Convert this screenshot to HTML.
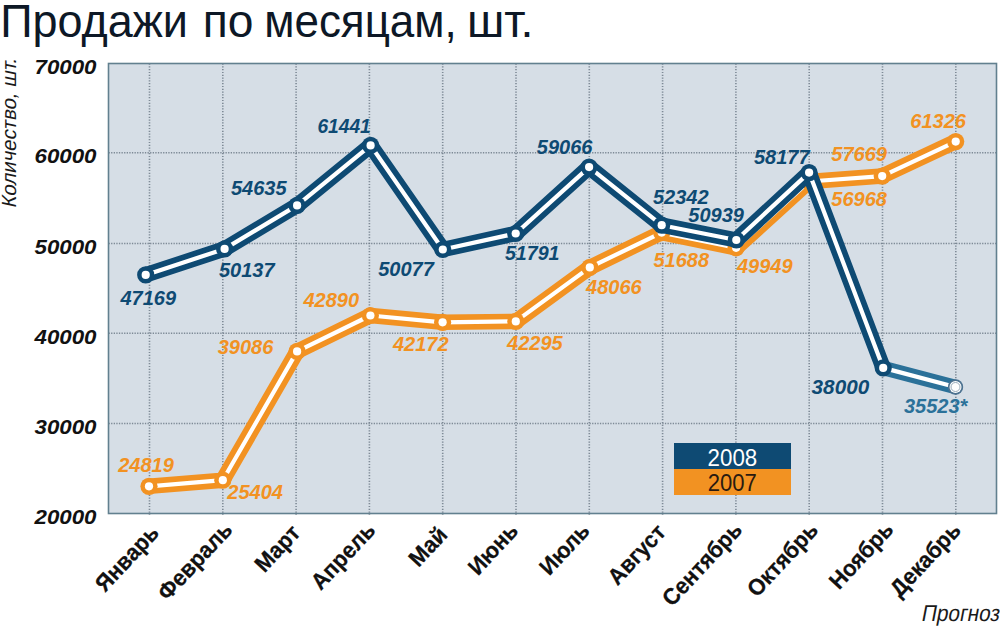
<!DOCTYPE html>
<html lang="ru"><head><meta charset="utf-8"><title>Продажи по месяцам, шт.</title>
<style>
html,body{margin:0;padding:0;background:#fff;}
body{width:1000px;height:626px;overflow:hidden;font-family:"Liberation Sans",sans-serif;}
svg{display:block;}
text{font-family:"Liberation Sans",sans-serif;}
.ttl{font-size:47px;fill:#0d1826;}
.yl{font-size:19.5px;font-weight:bold;font-style:italic;fill:#111;}
.xl{font-weight:bold;fill:#111;stroke:#111;stroke-width:0.25px;}
.dl{font-size:20px;font-weight:bold;font-style:italic;}
.b{fill:#0e4a73}.o{fill:#f29222}.f{fill:#2b7199}
.ob{fill:#1a1a1a;}
</style></head><body>
<svg width="1000" height="626" viewBox="0 0 1000 626">
<rect width="1000" height="626" fill="#fff"/>

<text class="ttl" x="0.17" y="36.6" textLength="187.78" lengthAdjust="spacingAndGlyphs">Продажи</text>
<text class="ttl" x="202.85" y="36.6" textLength="50.72" lengthAdjust="spacingAndGlyphs">по</text>
<text class="ttl" x="264.19" y="36.6" textLength="192.6" lengthAdjust="spacingAndGlyphs">месяцам,</text>
<text class="ttl" x="467.03" y="36.6" textLength="66.42" lengthAdjust="spacingAndGlyphs">шт.</text>
<rect x="108.5" y="63.5" width="888.0" height="450.0" fill="#d6dee6"/>
<line x1="149.5" y1="63.5" x2="149.5" y2="515.0" stroke="#6f7c89" stroke-width="1.6" stroke-dasharray="1.2 1.6" opacity="0.85"/>
<line x1="222.8" y1="63.5" x2="222.8" y2="515.0" stroke="#6f7c89" stroke-width="1.6" stroke-dasharray="1.2 1.6" opacity="0.85"/>
<line x1="296.1" y1="63.5" x2="296.1" y2="515.0" stroke="#6f7c89" stroke-width="1.6" stroke-dasharray="1.2 1.6" opacity="0.85"/>
<line x1="369.4" y1="63.5" x2="369.4" y2="515.0" stroke="#6f7c89" stroke-width="1.6" stroke-dasharray="1.2 1.6" opacity="0.85"/>
<line x1="442.7" y1="63.5" x2="442.7" y2="515.0" stroke="#6f7c89" stroke-width="1.6" stroke-dasharray="1.2 1.6" opacity="0.85"/>
<line x1="516.0" y1="63.5" x2="516.0" y2="515.0" stroke="#6f7c89" stroke-width="1.6" stroke-dasharray="1.2 1.6" opacity="0.85"/>
<line x1="589.3" y1="63.5" x2="589.3" y2="515.0" stroke="#6f7c89" stroke-width="1.6" stroke-dasharray="1.2 1.6" opacity="0.85"/>
<line x1="662.6" y1="63.5" x2="662.6" y2="515.0" stroke="#6f7c89" stroke-width="1.6" stroke-dasharray="1.2 1.6" opacity="0.85"/>
<line x1="735.9" y1="63.5" x2="735.9" y2="515.0" stroke="#6f7c89" stroke-width="1.6" stroke-dasharray="1.2 1.6" opacity="0.85"/>
<line x1="809.2" y1="63.5" x2="809.2" y2="515.0" stroke="#6f7c89" stroke-width="1.6" stroke-dasharray="1.2 1.6" opacity="0.85"/>
<line x1="882.5" y1="63.5" x2="882.5" y2="515.0" stroke="#6f7c89" stroke-width="1.6" stroke-dasharray="1.2 1.6" opacity="0.85"/>
<line x1="955.8" y1="63.5" x2="955.8" y2="515.0" stroke="#6f7c89" stroke-width="1.6" stroke-dasharray="1.2 1.6" opacity="0.85"/>
<line x1="108.5" y1="152.7" x2="996.5" y2="152.7" stroke="#6f7c89" stroke-width="1.5" stroke-dasharray="1.3 1.3" opacity="0.85"/>
<line x1="108.5" y1="243.4" x2="996.5" y2="243.4" stroke="#6f7c89" stroke-width="1.5" stroke-dasharray="1.3 1.3" opacity="0.85"/>
<line x1="108.5" y1="333.3" x2="996.5" y2="333.3" stroke="#6f7c89" stroke-width="1.5" stroke-dasharray="1.3 1.3" opacity="0.85"/>
<line x1="108.5" y1="423.6" x2="996.5" y2="423.6" stroke="#6f7c89" stroke-width="1.5" stroke-dasharray="1.3 1.3" opacity="0.85"/>
<rect x="108.5" y="63.5" width="888.0" height="450.0" fill="none" stroke="#62808f" stroke-width="1.6"/>
<text class="yl" x="96.5" y="73.6" text-anchor="end" textLength="62" lengthAdjust="spacingAndGlyphs">70000</text>
<text class="yl" x="96.5" y="163.3" text-anchor="end" textLength="62" lengthAdjust="spacingAndGlyphs">60000</text>
<text class="yl" x="96.5" y="254.0" text-anchor="end" textLength="62" lengthAdjust="spacingAndGlyphs">50000</text>
<text class="yl" x="96.5" y="343.9" text-anchor="end" textLength="62" lengthAdjust="spacingAndGlyphs">40000</text>
<text class="yl" x="96.5" y="434.2" text-anchor="end" textLength="62" lengthAdjust="spacingAndGlyphs">30000</text>
<text class="yl" x="96.5" y="524.1" text-anchor="end" textLength="62" lengthAdjust="spacingAndGlyphs">20000</text>
<text class="ob" font-size="20.5" transform="translate(16,208.6) rotate(-90) scale(0.995,1) skewX(-12)">Количество, шт.</text>
<rect x="674" y="443" width="117" height="26" fill="#0e4a73"/>
<rect x="674" y="469" width="117" height="26" fill="#f29222"/>
<text x="732.4" y="465.6" font-size="23" fill="#fff" text-anchor="middle" textLength="49.6" lengthAdjust="spacingAndGlyphs">2008</text>
<text x="732.3" y="490.8" font-size="23" fill="#2a1a10" text-anchor="middle" textLength="49" lengthAdjust="spacingAndGlyphs">2007</text>
<polyline points="149.0,486.3 222.8,480.2 297.1,351.4 370.4,315.5 442.6,322.3 515.8,321.4 589.8,267.4 661.7,232.6 736.1,247.8 809.0,181.5 882.2,176.1 955.7,141.6" fill="none" stroke="#f29222" stroke-width="15.5" stroke-linecap="round" stroke-linejoin="round"/>
<polyline points="149.0,486.3 222.8,480.2 297.1,351.4 370.4,315.5 442.6,322.3 515.8,321.4 589.8,267.4 661.7,232.6 736.1,247.8 809.0,181.5 882.2,176.1 955.7,141.6" fill="none" stroke="#fff" stroke-width="4.2" stroke-linecap="butt" stroke-linejoin="round"/>
<circle cx="149.0" cy="486.3" r="8.6" fill="#f29222"/><circle cx="149.0" cy="486.3" r="4.1" fill="#fff"/>
<circle cx="222.8" cy="480.2" r="8.6" fill="#f29222"/><circle cx="222.8" cy="480.2" r="4.1" fill="#fff"/>
<circle cx="297.1" cy="351.4" r="8.6" fill="#f29222"/><circle cx="297.1" cy="351.4" r="4.1" fill="#fff"/>
<circle cx="370.4" cy="315.5" r="8.6" fill="#f29222"/><circle cx="370.4" cy="315.5" r="4.1" fill="#fff"/>
<circle cx="442.6" cy="322.3" r="8.6" fill="#f29222"/><circle cx="442.6" cy="322.3" r="4.1" fill="#fff"/>
<circle cx="515.8" cy="321.4" r="8.6" fill="#f29222"/><circle cx="515.8" cy="321.4" r="4.1" fill="#fff"/>
<circle cx="589.8" cy="267.4" r="8.6" fill="#f29222"/><circle cx="589.8" cy="267.4" r="4.1" fill="#fff"/>
<circle cx="661.7" cy="232.6" r="8.6" fill="#f29222"/><circle cx="661.7" cy="232.6" r="4.1" fill="#fff"/>
<circle cx="736.1" cy="247.8" r="8.6" fill="#f29222"/><circle cx="736.1" cy="247.8" r="4.1" fill="#fff"/>
<circle cx="809.0" cy="181.5" r="8.6" fill="#f29222"/><circle cx="809.0" cy="181.5" r="4.1" fill="#fff"/>
<circle cx="882.2" cy="176.1" r="8.6" fill="#f29222"/><circle cx="882.2" cy="176.1" r="4.1" fill="#fff"/>
<circle cx="955.7" cy="141.6" r="8.6" fill="#f29222"/><circle cx="955.7" cy="141.6" r="4.1" fill="#fff"/>
<polyline points="145.7,274.9 224.6,248.9 297.1,205.4 370.6,145.4 442.8,249.5 515.7,233.5 589.1,167.1 661.7,225.2 736.3,240.0 809.1,172.6 883.2,367.9" fill="none" stroke="#0e4a73" stroke-width="15.5" stroke-linecap="round" stroke-linejoin="round"/>
<polyline points="883.2,367.9 955.5,387.0" fill="none" stroke="#2b7199" stroke-width="14.5" stroke-linecap="round"/>
<polyline points="145.7,274.9 224.6,248.9 297.1,205.4 370.6,145.4 442.8,249.5 515.7,233.5 589.1,167.1 661.7,225.2 736.3,240.0 809.1,172.6 883.2,367.9 955.5,387.0" fill="none" stroke="#fff" stroke-width="4.2" stroke-linejoin="round"/>
<circle cx="145.7" cy="274.9" r="8.6" fill="#0e4a73"/><circle cx="145.7" cy="274.9" r="4.1" fill="#fff"/>
<circle cx="224.6" cy="248.9" r="8.6" fill="#0e4a73"/><circle cx="224.6" cy="248.9" r="4.1" fill="#fff"/>
<circle cx="297.1" cy="205.4" r="8.6" fill="#0e4a73"/><circle cx="297.1" cy="205.4" r="4.1" fill="#fff"/>
<circle cx="370.6" cy="145.4" r="8.6" fill="#0e4a73"/><circle cx="370.6" cy="145.4" r="4.1" fill="#fff"/>
<circle cx="442.8" cy="249.5" r="8.6" fill="#0e4a73"/><circle cx="442.8" cy="249.5" r="4.1" fill="#fff"/>
<circle cx="515.7" cy="233.5" r="8.6" fill="#0e4a73"/><circle cx="515.7" cy="233.5" r="4.1" fill="#fff"/>
<circle cx="589.1" cy="167.1" r="8.6" fill="#0e4a73"/><circle cx="589.1" cy="167.1" r="4.1" fill="#fff"/>
<circle cx="661.7" cy="225.2" r="8.6" fill="#0e4a73"/><circle cx="661.7" cy="225.2" r="4.1" fill="#fff"/>
<circle cx="736.3" cy="240.0" r="8.6" fill="#0e4a73"/><circle cx="736.3" cy="240.0" r="4.1" fill="#fff"/>
<circle cx="809.1" cy="172.6" r="8.6" fill="#0e4a73"/><circle cx="809.1" cy="172.6" r="4.1" fill="#fff"/>
<circle cx="883.2" cy="367.9" r="8.6" fill="#0e4a73"/><circle cx="883.2" cy="367.9" r="4.1" fill="#fff"/>
<circle cx="955.5" cy="387.0" r="7.7" fill="#4d7290"/><circle cx="955.5" cy="387.0" r="6.0" fill="#fff"/><circle cx="955.5" cy="387.0" r="4.5" fill="none" stroke="#8fa3b3" stroke-width="0.9"/>
<text class="dl b" x="120.4" y="304.7">47169</text>
<text class="dl b" x="219.0" y="276.6">50137</text>
<text class="dl b" x="230.9" y="194.7">54635</text>
<text class="dl b" x="317.4" y="133.3" textLength="53.4" lengthAdjust="spacingAndGlyphs">61441</text>
<text class="dl b" x="378.2" y="275.5">50077</text>
<text class="dl b" x="504.9" y="260.4" textLength="54.6" lengthAdjust="spacingAndGlyphs">51791</text>
<text class="dl b" x="536.8" y="154.2">59066</text>
<text class="dl b" x="652.9" y="203.5">52342</text>
<text class="dl b" x="688.3" y="221.7">50939</text>
<text class="dl b" x="753.9" y="164.3">58177</text>
<text class="dl b" x="811.6" y="394.0" textLength="57.6" lengthAdjust="spacingAndGlyphs">38000</text>
<text class="dl f" x="904" y="413">35523*</text>
<text class="dl o" x="118.2" y="471.6">24819</text>
<text class="dl o" x="227.3" y="499.1">25404</text>
<text class="dl o" x="217.7" y="354.3">39086</text>
<text class="dl o" x="303.5" y="307.4">42890</text>
<text class="dl o" x="392.9" y="350.7">42172</text>
<text class="dl o" x="507.1" y="350.1">42295</text>
<text class="dl o" x="586.1" y="294.2">48066</text>
<text class="dl o" x="653.5" y="266.7">51688</text>
<text class="dl o" x="736.9" y="273.1">49949</text>
<text class="dl o" x="831.3" y="206.3">56968</text>
<text class="dl o" x="831.3" y="160.5">57669</text>
<text class="dl o" x="910.3" y="127.9">61326</text>
<text class="xl" font-size="23" text-anchor="end" transform="translate(160.2,533.8) rotate(-47) scale(0.95,1)">Январь</text>
<text class="xl" font-size="23" text-anchor="end" transform="translate(233.7,530.8) rotate(-47) scale(0.95,1)">Февраль</text>
<text class="xl" font-size="23" text-anchor="end" transform="translate(301.6,533.8) rotate(-47) scale(0.95,1)">Март</text>
<text class="xl" font-size="23" text-anchor="end" transform="translate(376.6,531.4) rotate(-47) scale(0.95,1)">Апрель</text>
<text class="xl" font-size="23" text-anchor="end" transform="translate(448.6,535.8) rotate(-47) scale(0.95,1)">Май</text>
<text class="xl" font-size="23" text-anchor="end" transform="translate(519.5,531.9) rotate(-47) scale(0.95,1)">Июнь</text>
<text class="xl" font-size="23" text-anchor="end" transform="translate(590.9,531.9) rotate(-47) scale(0.95,1)">Июль</text>
<text class="xl" font-size="23" text-anchor="end" transform="translate(667.0,533.2) rotate(-47) scale(0.95,1)">Август</text>
<text class="xl" font-size="23" text-anchor="end" transform="translate(743.5,530.9) rotate(-47) scale(0.95,1)">Сентябрь</text>
<text class="xl" font-size="23" text-anchor="end" transform="translate(819.4,531.2) rotate(-47) scale(0.95,1)">Октябрь</text>
<text class="xl" font-size="23" text-anchor="end" transform="translate(894.7,530.7) rotate(-47) scale(0.95,1)">Ноябрь</text>
<text class="xl" font-size="23" text-anchor="end" transform="translate(962.1,531.4) rotate(-47) scale(0.95,1)">Декабрь</text>
<text class="ob" font-size="23" transform="translate(920.8,620.5) scale(0.905,1) skewX(-12)">Прогноз</text>
</svg></body></html>
